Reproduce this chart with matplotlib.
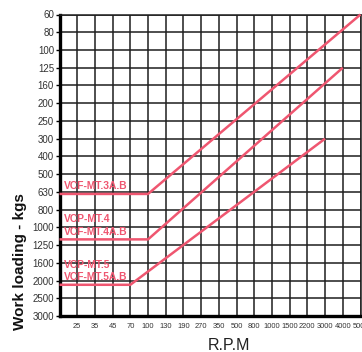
import numpy as np
import matplotlib
matplotlib.use("Agg")
import matplotlib.pyplot as plt
from matplotlib import font_manager

# ---- data ----
rpm_ticks = [25, 35, 45, 70, 100, 130, 190, 270, 350, 500, 800, 1000, 1500, 2200, 3000, 4000, 5000]
rpm_min = 15  # left edge of the chart (unlabelled)
load_ticks = [60, 80, 100, 125, 160, 200, 250, 300, 400, 500, 630, 800, 1000, 1250, 1600, 2000, 2500, 3000]

series_names = ["VCF-MT.3A.B", "VCF-MT.4A.B", "VCF-MT.5A.B"]
series_rpm = [
    [15, 100, 5000],
    [15, 100, 4000],
    [15, 70, 3000],
]
series_load = [
    [650, 650, 60],
    [1170, 1170, 125],
    [2120, 2120, 300],
]
extra_labels = [None, "VCP-MT.4", "VCP-MT.5"]

red = "#ef5670"

# ---- scales: piecewise mapping of the printed grid ----
xv = np.array([rpm_min] + rpm_ticks, dtype=float)
xi = np.arange(len(xv), dtype=float)
yv = np.array(load_ticks, dtype=float)
yi = np.arange(len(yv), dtype=float)

def xf(v):
    return np.interp(v, xv, xi)
def xinv(i):
    return np.interp(i, xi, xv)
def yf(v):
    return np.interp(v, yv, yi)
def yinv(i):
    return np.interp(i, yi, yv)

names = {f.name for f in font_manager.fontManager.ttflist}
narrow = "Liberation Sans Narrow" if "Liberation Sans Narrow" in names else None

fig = plt.figure(figsize=(3.62, 3.52), dpi=100)
ax = fig.add_axes([59.5 / 362, (352 - 316) / 352, 301 / 362, 301.5 / 352])
ax.set_xscale("function", functions=(xf, xinv))
ax.set_yscale("function", functions=(yf, yinv))
ax.set_xlim(rpm_min, rpm_ticks[-1])
ax.set_ylim(load_ticks[-1], load_ticks[0])

ax.set_xticks(rpm_ticks)
ax.set_xticklabels([str(v) for v in rpm_ticks])
ax.set_yticks(load_ticks)
ax.set_yticklabels([str(v) for v in load_ticks])
ax.minorticks_off()

ax.grid(True, color="#1e1e1e", linewidth=1.1)
ax.set_axisbelow(True)
for s in ["top", "right"]:
    ax.spines[s].set_linewidth(1.1)
    ax.spines[s].set_color("#1e1e1e")
for s in ["left", "bottom"]:
    ax.spines[s].set_linewidth(2.4)
    ax.spines[s].set_color("black")

ax.tick_params(axis="y", length=3, width=1.0, pad=1, labelsize=7.0, labelcolor="#333333", color="black")
if narrow:
    for lab in ax.get_xticklabels():
        lab.set_fontfamily(narrow)
    ax.tick_params(axis="x", length=0, pad=5, labelsize=6.0, labelcolor="#333333")
else:
    for lab in ax.get_xticklabels():
        lab.set_fontfamily("Liberation Sans")
    ax.tick_params(axis="x", length=0, pad=5, labelsize=5.4, labelcolor="#333333")
for lab in ax.get_yticklabels():
    lab.set_fontfamily("Liberation Sans")

for name, xs, ys, extra in zip(series_names, series_rpm, series_load, extra_labels):
    ax.plot(xs, ys, color=red, linewidth=1.8, solid_capstyle="butt", zorder=3, clip_on=False)
    ax.annotate(name, xy=(xs[0], ys[0]), xytext=(3, 5.5), textcoords="offset points",
                ha="left", va="center", color=red, fontsize=7.4, fontweight="bold",
                family="Liberation Sans", zorder=4)
    if extra:
        ax.annotate(extra, xy=(xs[0], ys[0]), xytext=(3, 14.5), textcoords="offset points",
                    ha="left", va="center", color=red, fontsize=7.4, fontweight="bold",
                    family="Liberation Sans", zorder=4)

fig.text(20 / 362, 1 - 262 / 352, "Work loading - kgs", rotation=90, ha="center", va="center",
         fontsize=11, fontweight="bold", family="Liberation Sans", color="#111111")
fig.text(229 / 362, 1 - 345 / 352, "R.P.M", ha="center", va="center",
         fontsize=11.5, family="Liberation Sans", color="#222222")

fig.savefig("out.png", dpi=100)
